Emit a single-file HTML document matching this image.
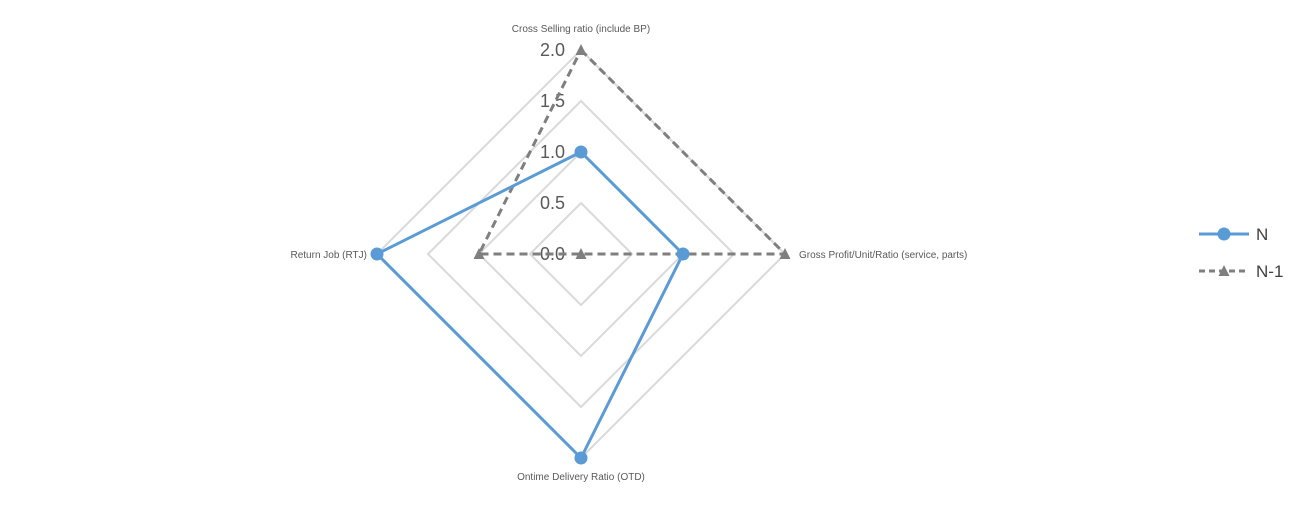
<!DOCTYPE html>
<html><head><meta charset="utf-8"><style>
body{margin:0;background:#fff;}
svg{display:block;font-family:"Liberation Sans",sans-serif;}
</style></head><body>
<svg id="chart" width="1309" height="507"></svg>
<script>
const categories=["Cross Selling ratio (include BP)","Gross Profit/Unit/Ratio (service, parts)","Ontime Delivery Ratio (OTD)","Return Job (RTJ)"];
const seriesN=[1.0,1.0,2.0,2.0];
const seriesN1=[2.0,2.0,0.0,1.0];
const ticks=[0,0.5,1.0,1.5,2.0];
const tickLabels=["0.0","0.5","1.0","1.5","2.0"];
const maxVal=2.0;
const cx=581,cy=254,R=204;
const svg=document.getElementById('chart');
const NS="http://www.w3.org/2000/svg";
function mk(t,a){const e=document.createElementNS(NS,t);for(const k in a)e.setAttribute(k,a[k]);svg.appendChild(e);return e;}
function pt(i,v){const ang=-Math.PI/2+i*2*Math.PI/categories.length;const r=v/maxVal*R;return [cx+r*Math.cos(ang),cy+r*Math.sin(ang)];}
ticks.forEach((t,ti)=>{if(t===0)return;const p=categories.map((c,i)=>pt(i,t).join(',')).join(' ');
const g=mk('polygon',{points:p,fill:'none',stroke:'#d9d9d9','stroke-width':2});

});
ticks.forEach((t,ti)=>{const p=pt(0,t);const e=mk('text',{x:p[0]-16,y:p[1]+6,'text-anchor':'end','font-size':18,fill:'#595959'});e.textContent=tickLabels[ti];

});
const off=[[0,-18,'middle'],[14,4,'start'],[0,22,'middle'],[-10,4,'end']];
categories.forEach((c,i)=>{const p=pt(i,maxVal);const e=mk('text',{x:p[0]+off[i][0],y:p[1]+off[i][1],'text-anchor':off[i][2],'font-size':10,fill:'#595959'});e.textContent=c;

});
function series(vals,color,dash,marker,name){
const p=vals.map((v,i)=>pt(i,v).join(',')).join(' ');
const pl=mk('polygon',{points:p,fill:'none',stroke:color,'stroke-width':3,'stroke-dasharray':dash||'none'});


vals.forEach((v,i)=>{const q=pt(i,v);let m;
if(marker==='circle')m=mk('circle',{cx:q[0],cy:q[1],r:6.5,fill:color});
else m=mk('polygon',{points:`${q[0]},${q[1]-6} ${q[0]-5.5},${q[1]+5} ${q[0]+5.5},${q[1]+5}`,fill:color});

});}
series(seriesN1,'#7f7f7f','8,5','tri','n1');
series(seriesN,'#5b9bd5',null,'circle','n');
function leg(y,color,dash,marker,label,name){
const l=mk('line',{x1:1199,y1:y,x2:1249,y2:y,stroke:color,'stroke-width':3,'stroke-dasharray':dash||'none'});


let m;if(marker==='circle')m=mk('circle',{cx:1224,cy:y,r:6.5,fill:color});
else m=mk('polygon',{points:`1224,${y-6} 1218.5,${y+5} 1229.5,${y+5}`,fill:color});


const t=mk('text',{x:1256,y:y+6,'font-size':17,fill:'#404040'});t.textContent=label;

}
leg(234,'#5b9bd5',null,'circle','N','n');
leg(271,'#7f7f7f','6,4','tri','N-1','n1');
</script>
</body></html>
